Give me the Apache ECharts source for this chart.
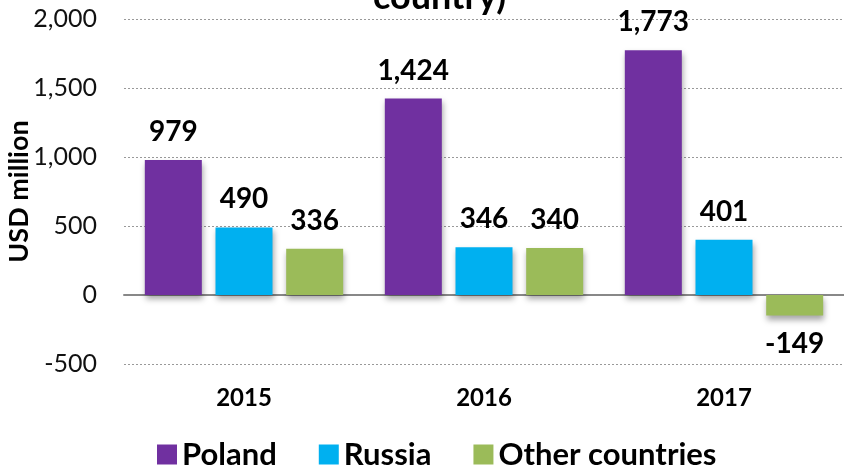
<!DOCTYPE html>
<html><head><meta charset="utf-8">
<script src="https://cdn.jsdelivr.net/npm/echarts@6/dist/echarts.min.js"></script>
<style>html,body{margin:0;padding:0;background:#fff}#c{width:844px;height:466px}</style>
</head><body><div id="c"></div>
<script>
const categories = ['2015', '2016', '2017'];
const poland = [979, 1424, 1773];
const russia = [490, 346, 401];
const other = [336, 340, -149];
const seriesNames = ['Poland', 'Russia', 'Other countries'];
const colors = ['#7030A0', '#00B0F0', '#9BBB59'];
const fmt = v => Number(v).toLocaleString('en-US');
const FONT = 'Lato';
function mk(name, data, color) {
  return {
    name, type: 'bar', data,
    barWidth: 57, barGap: '24%',
    itemStyle: { color, shadowBlur: 6, shadowOffsetY: 4, shadowOffsetX: 1, shadowColor: 'rgba(0,0,0,0.35)' },
    label: {
      show: true, fontFamily: FONT, fontWeight: 'bold', fontSize: 28, color: '#000', distance: 14,
      formatter: p => fmt(p.value),
      position: 'top'
    }
  };
}
const s3 = mk(seriesNames[2], other.map(v => v < 0 ? { value: v, label: { position: 'bottom', distance: 14 } } : v), colors[2]);
const chart = echarts.init(document.getElementById('c'));
chart.setOption({
  animation: false,
  title: { text: 'country)', left: 368, top: -26, textStyle: { fontFamily: FONT, fontWeight: 'bold', fontSize: 36, color: '#000' } },
  grid: { left: 124, right: 0, top: 19, bottom: 102, containLabel: false, outerBoundsMode: 'none' },
  legend: {
    top: 434, left: 152, itemWidth: 20, itemHeight: 20, itemGap: 42, icon: 'rect',
    textStyle: { fontFamily: FONT, fontWeight: 'bold', fontSize: 31, color: '#000' },
    data: seriesNames
  },
  xAxis: {
    type: 'category', data: categories,
    axisLine: { lineStyle: { color: '#888', width: 2 } },
    axisTick: { show: false },
    axisLabel: { fontFamily: FONT, fontWeight: 'bold', fontSize: 24, color: '#000', margin: 22 }
  },
  yAxis: {
    type: 'value', min: -500, max: 2000, interval: 500,
    name: 'USD million', nameLocation: 'middle', nameGap: 91, nameMoveOverlap: false,
    nameTextStyle: { fontFamily: FONT, fontWeight: 'bold', fontSize: 27, color: '#000' },
    axisLine: { show: false }, axisTick: { show: false },
    axisLabel: { fontFamily: FONT, fontSize: 25, color: '#111', margin: 27, formatter: v => fmt(v) },
    splitLine: { lineStyle: { color: '#999', type: [2, 2], width: 1 } }
  },
  series: [mk(seriesNames[0], poland, colors[0]), mk(seriesNames[1], russia, colors[1]), s3]
});
</script></body></html>
